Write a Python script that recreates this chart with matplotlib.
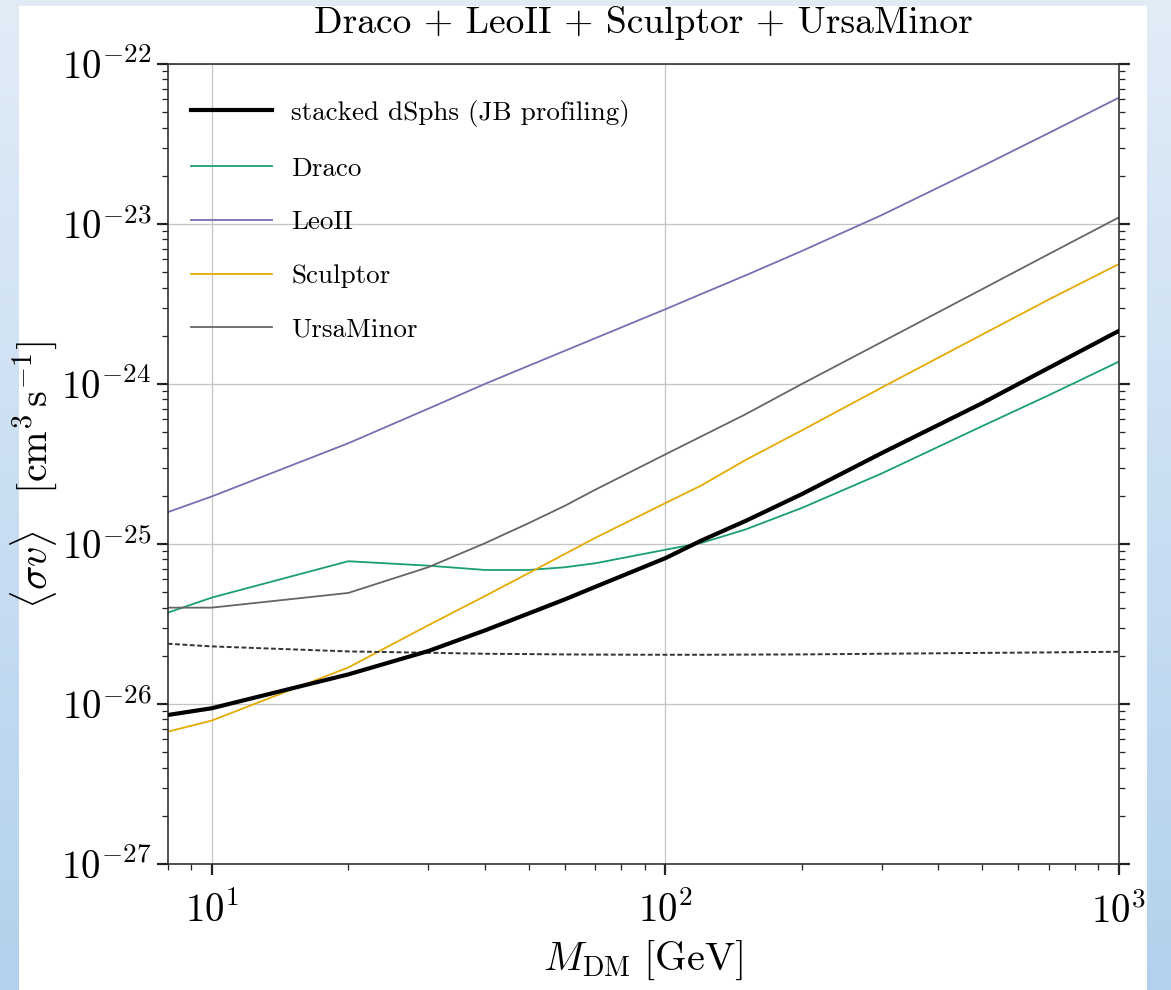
import numpy as np
import matplotlib
matplotlib.use('Agg')
from matplotlib import pyplot as plt
from matplotlib.colors import to_rgb
from matplotlib.ticker import NullFormatter

plt.rcParams['font.family'] = 'serif'
plt.rcParams['font.serif'] = ['cmr10']
plt.rcParams['mathtext.fontset'] = 'cm'
plt.rcParams['axes.formatter.use_mathtext'] = True

# DM mass grid [GeV] and limits on <sigma v>, in units of 1e-26 cm^3/s
mass = [8, 10, 20, 30, 40, 50, 60, 70, 100, 120, 150, 200, 300, 500, 700, 1000]
stacked = [0.853, 0.94, 1.53, 2.14, 2.88, 3.68, 4.5, 5.39, 8.15, 10.5, 13.9, 20.5, 37, 76, 126, 215]
draco = [3.72, 4.62, 7.8, 7.32, 6.88, 6.88, 7.15, 7.57, 9.2, 10.15, 12.3, 16.8, 27.6, 54.6, 85, 138]
leoii = [15.8, 19.8, 42.6, 70, 100, 130, 161, 193, 293, 365, 476, 678, 1137, 2300, 3700, 6160]
sculptor = [0.671, 0.787, 1.69, 3.10, 4.72, 6.58, 8.65, 10.9, 18.0, 23.2, 33.4, 51.3, 95, 204, 337, 562]
ursaminor = [4.0, 4.0, 4.94, 7.15, 10.1, 13.5, 17.3, 21.8, 36.3, 47.0, 64.5, 100, 183, 392, 648, 1100]
relic = [2.38, 2.29, 2.13, 2.09, 2.06, 2.05, 2.04, 2.035, 2.03, 2.03, 2.035, 2.04, 2.06, 2.085, 2.1, 2.12]

dwarfs = ['Draco', 'LeoII', 'Sculptor', 'UrsaMinor']
dwarf_vals = [draco, leoii, sculptor, ursaminor]
dwarf_cols = ['#1b9e77', '#7570b3', '#e6ab02', '#666666']

xticks = [10, 100, 1000]
yticks = [1e-27, 1e-26, 1e-25, 1e-24, 1e-23, 1e-22]

scale = 1e-26
m = np.array(mass)

W, H = 1171, 990
fig = plt.figure(figsize=(W/100, H/100), dpi=100)

# slide background: blue gradient with a white panel
top = np.array(to_rgb('#e1ecf7'))
bot = np.array(to_rgb('#b3d1ed'))
t = np.linspace(0, 1, H)[:, None, None]
bgimg = (1 - t)*top + t*bot
bgimg = np.repeat(bgimg, W, axis=1)
bgimg[6:, 19:1147, :] = 1.0
fig.figimage(bgimg, xo=0, yo=0, origin='upper', zorder=-10)

ax = fig.add_axes([0.1432, 0.1273, 0.8124, 0.8081])

ax.plot(m, np.array(stacked)*scale, color='black', lw=3.0,
        label='stacked dSphs (JB profiling)', zorder=5)
for name, vals, col in zip(dwarfs, dwarf_vals, dwarf_cols):
    ax.plot(m, np.array(vals)*scale, color=col, lw=1.3, label=name)
ax.plot(m, np.array(relic)*scale, color='#333333', lw=1.4, ls=(0, (2.5, 1.3)))

ax.set_xscale('log')
ax.set_yscale('log')
ax.set_xticks(xticks)
ax.set_yticks(yticks)
ax.set_xlim(8, 1000)
ax.set_ylim(1e-27, 1e-22)
ax.xaxis.set_minor_formatter(NullFormatter())
ax.yaxis.set_minor_formatter(NullFormatter())

ax.grid(True, which='major', color='#c4c4c4', lw=0.9)
ax.tick_params(axis='both', which='major', direction='out', length=8, width=1.6,
               labelsize=28, color='#222222')
ax.tick_params(axis='both', which='minor', direction='out', length=4.5, width=0.9,
               color='#222222')
ax.tick_params(axis='y', which='both', left=True, right=True)
ax.tick_params(axis='x', which='both', bottom=True, top=False)
ax.tick_params(axis='x', which='major', pad=12)
for sp in ax.spines.values():
    sp.set_color('#333333')
    sp.set_linewidth(1.2)

ax.set_xlabel(r'$M_{\rm DM}\ [\mathrm{GeV}]$', fontsize=29, labelpad=6)
ax.set_ylabel(r'$\langle\sigma v\rangle\quad[\mathrm{cm}^3\,\mathrm{s}^{-1}]$', fontsize=29)
ax.yaxis.set_label_coords(-0.113, 0.486)
ax.set_title('Draco + LeoII + Sculptor + UrsaMinor', fontsize=27, pad=22)

ax.legend(loc='upper left', bbox_to_anchor=(0.0245, 0.955), frameon=False,
          fontsize=19.5, handlelength=3.0, handletextpad=0.7, labelspacing=1.1,
          borderpad=0, borderaxespad=0)

fig.savefig('out.png', dpi=100)
